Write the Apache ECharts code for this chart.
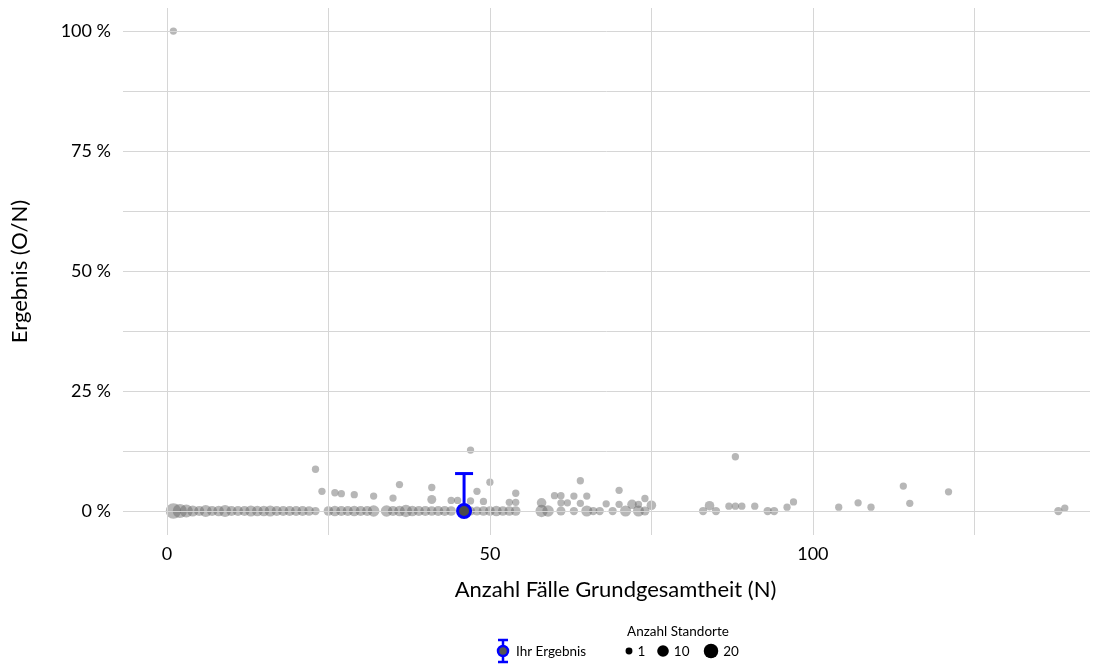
<!DOCTYPE html>
<html>
<head>
<meta charset="utf-8">
<script src="https://cdn.jsdelivr.net/npm/echarts@6/dist/echarts.min.js"></script>
<style>
html,body{margin:0;padding:0;background:#fff;}
#chart{width:1104px;height:667px;}
</style>
</head>
<body>
<div id="chart"></div>
<script>
// ---- data ----
// Points with result 0 %: case count N and number of sites
const zeroN     = [1,2,3,4,5,6,7,8,9,10,11,12,13,14,15,16,17,18,19,20,21,22,23,25,26,27,28,29,30,31,32,34,35,36,37,38,39,40,41,42,43,44,47,48,49,50,51,52,53,54,58,59,61,63,65,66,67,69,71,73,74,83,85,93,94,138];
const zeroSites = [20,16,12,7,5,9,5,6,9,5,5,5,7,6,6,7,5,5,5,5,5,4,2,4,6,5,5,6,5,5,8,8,5,6,10,6,5,5,4,5,5,4,3,3,4,4,6,4,4,4,10,8,3,2,7,2,2,2,7,7,3,2,2,2,2,2];
// Points with result > 0 %: N, result in %, number of sites
const posN     = [1,23,24,26,27,29,32,35,36,41,41,44,45,47,47,48,49,50,53,54,54,58,60,61,61,62,63,64,64,65,68,70,70,72,73,74,75,84,87,88,88,89,91,96,97,104,107,109,114,115,121,139];
const posPct   = [100,8.7,4.1,3.8,3.6,3.4,3.1,2.7,5.5,4.9,2.4,2.2,2.2,12.7,2.1,4.1,2.0,6.0,1.8,3.7,1.8,1.7,3.2,3.2,1.7,1.7,3.1,6.3,1.6,3.1,1.5,4.3,1.4,1.4,1.4,2.6,1.2,1.1,1.0,11.3,1.0,1.0,1.0,0.8,1.9,0.8,1.7,0.8,5.2,1.6,4.0,0.6];
const posSites = [1,1,1,1,1,1,1,1,1,1,3,1,1,1,1,1,1,1,1,1,1,4,1,1,1,1,1,1,1,1,1,1,1,4,1,1,4,4,1,1,1,1,1,1,1,1,1,1,1,1,1,1];
// Own result
const ownN = 46, ownPct = 0, ownUpper = 7.8;
// Axis ticks
const xLabels = [0, 50, 100];
const xGrid = [0, 25, 50, 75, 100, 125];
const yLabels = [0, 25, 50, 75, 100];
const yGrid = [0, 12.5, 25, 37.5, 50, 62.5, 75, 87.5, 100];
const legendSites = [1, 10, 20];

const FONT = 'Lato, "Open Sans", sans-serif';
function dia(n){ return 2.3*Math.sqrt(n) + 5; }

const pts = [];
zeroN.forEach((n,i)=>pts.push([n, 0, zeroSites[i]]));
posN.forEach((n,i)=>pts.push([n, posPct[i], posSites[i]]));
pts.sort((a,b)=>b[2]-a[2]);

const gridLines = [];
xGrid.forEach(v=>gridLines.push({xAxis:v}));
yGrid.forEach(v=>gridLines.push({yAxis:v}));

const chart = echarts.init(document.getElementById('chart'), null, {renderer:'canvas'});

// legend graphics
const legY = 651;
const LF = '13.5px '+FONT;
const lg = [];
lg.push({type:'line', shape:{x1:503,y1:640,x2:503,y2:662}, style:{stroke:'#0000ff', lineWidth:2.5}});
lg.push({type:'line', shape:{x1:498,y1:640,x2:508,y2:640}, style:{stroke:'#0000ff', lineWidth:2.5}});
lg.push({type:'line', shape:{x1:498,y1:662,x2:508,y2:662}, style:{stroke:'#0000ff', lineWidth:2.5}});
lg.push({type:'circle', shape:{cx:503, cy:legY, r:5}, style:{fill:'#555', stroke:'#0000ff', lineWidth:2.5}});
lg.push({type:'text', x:516, y:legY+1, style:{text:'Ihr Ergebnis', font:LF, fill:'#000', verticalAlign:'middle', textAlign:'left'}});
lg.push({type:'text', x:678, y:632, style:{text:'Anzahl Standorte', font:LF, fill:'#000', verticalAlign:'middle', textAlign:'center'}});
const legX = [629, 663, 711];
legendSites.forEach((s,i)=>{
  const r = dia(s)/2*0.95;
  lg.push({type:'circle', shape:{cx:legX[i], cy:legY, r:r}, style:{fill:'#000'}});
  lg.push({type:'text', x:legX[i]+r+5, y:legY+1, style:{text:String(s), font:LF, fill:'#000', verticalAlign:'middle', textAlign:'left'}});
});

chart.setOption({
  animation:false,
  backgroundColor:'#fff',
  textStyle:{fontFamily:FONT},
  grid:{left:123, right:14, top:8, bottom:132},
  xAxis:{
    type:'value', min:-6.8, max:142.9,
    axisLine:{show:false}, axisTick:{show:false}, splitLine:{show:false},
    axisLabel:{customValues:xLabels, color:'#000', fontSize:18, fontFamily:FONT, margin:10},
    name:'Anzahl Fälle Grundgesamtheit (N)', nameLocation:'middle', nameGap:44,
    nameTextStyle:{color:'#000', fontSize:22, fontFamily:FONT, padding:[0,0,0,18]}
  },
  yAxis:{
    type:'value', min:-5, max:104.8,
    axisLine:{show:false}, axisTick:{show:false}, splitLine:{show:false},
    axisLabel:{customValues:yLabels, formatter:v=>v+' %', color:'#000', fontSize:18, fontFamily:FONT, margin:12},
    name:'Ergebnis (O/N)', nameLocation:'middle', nameGap:92, nameRotate:90,
    nameTextStyle:{color:'#000', fontSize:22, fontFamily:FONT}
  },
  series:[
    {
      type:'scatter', data:[], z:0, silent:true,
      markLine:{silent:true, symbol:['none','none'], label:{show:false},
        lineStyle:{color:'#d6d6d6', width:1, type:'solid'}, emphasis:{disabled:true},
        data:gridLines}
    },
    {
      type:'scatter', z:2,
      data:pts,
      symbolSize:d=>dia(d[2]),
      itemStyle:{color:'rgba(100,100,100,0.58)'},
      emphasis:{disabled:true}
    },
    {
      type:'custom', z:5,
      data:[[ownN, ownPct, ownUpper]],
      renderItem:(params, api)=>{
        const p0 = api.coord([api.value(0), api.value(1)]);
        const p1 = api.coord([api.value(0), api.value(2)]);
        const cw = 9;
        return {type:'group', children:[
          {type:'line', shape:{x1:p0[0],y1:p0[1],x2:p1[0],y2:p1[1]}, style:{stroke:'#0000ff', lineWidth:3}},
          {type:'line', shape:{x1:p1[0]-cw,y1:p1[1],x2:p1[0]+cw,y2:p1[1]}, style:{stroke:'#0000ff', lineWidth:3}},
          {type:'circle', shape:{cx:p0[0], cy:p0[1], r:6.5}, style:{fill:'#4a4a4a', stroke:'#0000ff', lineWidth:3}}
        ]};
      }
    }
  ],
  graphic:lg
});
</script>
</body>
</html>
